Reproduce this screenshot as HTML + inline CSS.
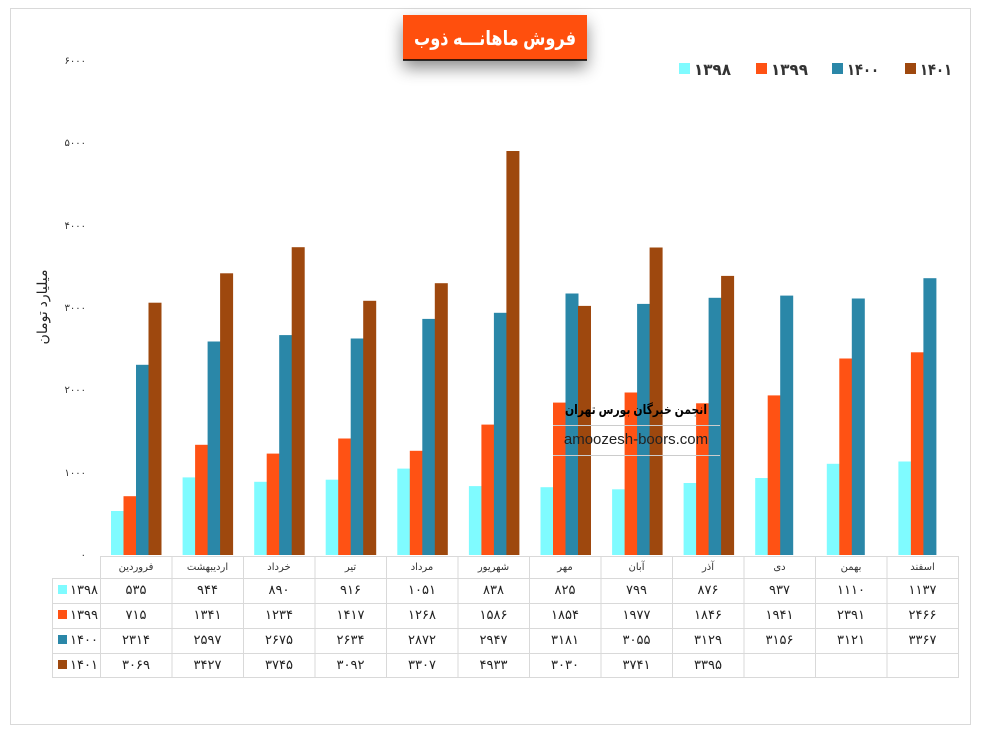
<!DOCTYPE html>
<html><head><meta charset="utf-8"><style>
html,body{margin:0;padding:0;background:#fff;}
body{width:981px;height:733px;overflow:hidden;position:relative;font-family:"Liberation Sans","DejaVu Sans","Noto Sans CJK SC",sans-serif;}
</style></head><body>
<svg width="981" height="733" xmlns="http://www.w3.org/2000/svg" style="position:absolute;left:0;top:0;font-family:'Liberation Sans','DejaVu Sans',sans-serif">
<defs><filter id="sh" x="-30%" y="-50%" width="160%" height="220%"><feDropShadow dx="0" dy="8" stdDeviation="8" flood-color="#000" flood-opacity="0.45"/></filter></defs>
<rect x="10.5" y="8.5" width="960" height="716" fill="#fff" stroke="#d9d9d9"/>
<!-- title -->
<rect x="403" y="15" width="184" height="45" fill="#FF5010" filter="url(#sh)"/>
<line x1="403" y1="60" x2="587" y2="60" stroke="#000" stroke-width="1.5"/>
<text x="495" y="45" text-anchor="middle" font-size="20" font-weight="bold" fill="#fff" direction="rtl" textLength="162" lengthAdjust="spacingAndGlyphs">فروش ماهانـــه ذوب</text>
<!-- legend -->
<g font-size="16" font-weight="bold" fill="#333">
<rect x="679" y="63" width="11" height="11" fill="#7FFBFF"/><text x="694" y="75" textLength="37" lengthAdjust="spacingAndGlyphs">۱۳۹۸</text>
<rect x="756" y="63" width="11" height="11" fill="#FF5214"/><text x="771" y="75" textLength="37" lengthAdjust="spacingAndGlyphs">۱۳۹۹</text>
<rect x="832" y="63" width="11" height="11" fill="#2A87A8"/><text x="847" y="75" textLength="32" lengthAdjust="spacingAndGlyphs">۱۴۰۰</text>
<rect x="905" y="63" width="11" height="11" fill="#9E480E"/><text x="920" y="75" textLength="32" lengthAdjust="spacingAndGlyphs">۱۴۰۱</text>
</g>
<!-- y axis labels -->
<g font-size="10" fill="#333" text-anchor="end">
<text x="86" y="64">۶۰۰۰</text><text x="86" y="146">۵۰۰۰</text><text x="86" y="229">۴۰۰۰</text>
<text x="86" y="311">۳۰۰۰</text><text x="86" y="393">۲۰۰۰</text><text x="86" y="476">۱۰۰۰</text><text x="86" y="558">۰</text>
</g>
<text transform="translate(47,307) rotate(-90)" text-anchor="middle" font-size="14" fill="#222" direction="rtl">میلیارد تومان</text>
<!-- bars -->
<g transform="translate(0,555) scale(1,-1)">
<g transform="translate(100,0)"><rect x="11" width="13" height="44" fill="#7FFBFF"/><rect x="23.5" width="13" height="58.8" fill="#FF5214"/><rect x="36" width="13" height="190.2" fill="#2A87A8"/><rect x="48.5" width="13" height="252.3" fill="#9E480E"/></g>
<g transform="translate(171.6,0)"><rect x="11" width="13" height="77.6" fill="#7FFBFF"/><rect x="23.5" width="13" height="110.2" fill="#FF5214"/><rect x="36" width="13" height="213.5" fill="#2A87A8"/><rect x="48.5" width="13" height="281.7" fill="#9E480E"/></g>
<g transform="translate(243.2,0)"><rect x="11" width="13" height="73.2" fill="#7FFBFF"/><rect x="23.5" width="13" height="101.4" fill="#FF5214"/><rect x="36" width="13" height="219.9" fill="#2A87A8"/><rect x="48.5" width="13" height="307.8" fill="#9E480E"/></g>
<g transform="translate(314.7,0)"><rect x="11" width="13" height="75.3" fill="#7FFBFF"/><rect x="23.5" width="13" height="116.5" fill="#FF5214"/><rect x="36" width="13" height="216.5" fill="#2A87A8"/><rect x="48.5" width="13" height="254.2" fill="#9E480E"/></g>
<g transform="translate(386.3,0)"><rect x="11" width="13" height="86.4" fill="#7FFBFF"/><rect x="23.5" width="13" height="104.2" fill="#FF5214"/><rect x="36" width="13" height="236.1" fill="#2A87A8"/><rect x="48.5" width="13" height="271.8" fill="#9E480E"/></g>
<g transform="translate(457.9,0)"><rect x="11" width="13" height="68.9" fill="#7FFBFF"/><rect x="23.5" width="13" height="130.4" fill="#FF5214"/><rect x="36" width="13" height="242.2" fill="#2A87A8"/><rect x="48.5" width="13" height="404" fill="#9E480E"/></g>
<g transform="translate(529.5,0)"><rect x="11" width="13" height="67.8" fill="#7FFBFF"/><rect x="23.5" width="13" height="152.4" fill="#FF5214"/><rect x="36" width="13" height="261.5" fill="#2A87A8"/><rect x="48.5" width="13" height="249.1" fill="#9E480E"/></g>
<g transform="translate(601.1,0)"><rect x="11" width="13" height="65.7" fill="#7FFBFF"/><rect x="23.5" width="13" height="162.5" fill="#FF5214"/><rect x="36" width="13" height="251.1" fill="#2A87A8"/><rect x="48.5" width="13" height="307.5" fill="#9E480E"/></g>
<g transform="translate(672.6,0)"><rect x="11" width="13" height="72" fill="#7FFBFF"/><rect x="23.5" width="13" height="151.7" fill="#FF5214"/><rect x="36" width="13" height="257.2" fill="#2A87A8"/><rect x="48.5" width="13" height="279.1" fill="#9E480E"/></g>
<g transform="translate(744.2,0)"><rect x="11" width="13" height="77" fill="#7FFBFF"/><rect x="23.5" width="13" height="159.6" fill="#FF5214"/><rect x="36" width="13" height="259.4" fill="#2A87A8"/></g>
<g transform="translate(815.8,0)"><rect x="11" width="13" height="91.2" fill="#7FFBFF"/><rect x="23.5" width="13" height="196.5" fill="#FF5214"/><rect x="36" width="13" height="256.5" fill="#2A87A8"/></g>
<g transform="translate(887.4,0)"><rect x="11" width="13" height="93.5" fill="#7FFBFF"/><rect x="23.5" width="13" height="202.7" fill="#FF5214"/><rect x="36" width="13" height="276.8" fill="#2A87A8"/></g>
</g>
<!-- watermark -->
<text x="636" y="414" text-anchor="middle" font-size="13" font-weight="bold" fill="#000" direction="rtl" textLength="142" lengthAdjust="spacingAndGlyphs">انجمن خبرگان بورس تهران</text>
<line x1="553" y1="425.5" x2="720" y2="425.5" stroke="#ccc"/>
<line x1="553" y1="455.5" x2="720" y2="455.5" stroke="#ccc"/>
<text x="636" y="444" text-anchor="middle" font-size="15" fill="#222">amoozesh-boors.com</text>
<!-- table grid -->
<g stroke="#d9d9d9" stroke-width="1">
<line x1="100" y1="556.5" x2="959" y2="556.5"/>
<line x1="52" y1="578.5" x2="959" y2="578.5"/>
<line x1="52" y1="603.5" x2="959" y2="603.5"/>
<line x1="52" y1="628.5" x2="959" y2="628.5"/>
<line x1="52" y1="653.5" x2="959" y2="653.5"/>
<line x1="52" y1="677.5" x2="959" y2="677.5"/>
<line x1="52.5" y1="578" x2="52.5" y2="678"/>
<line x1="100.5" y1="556" x2="100.5" y2="678"/>
<line x1="172" y1="556" x2="172" y2="678"/>
<line x1="243.5" y1="556" x2="243.5" y2="678"/>
<line x1="315" y1="556" x2="315" y2="678"/>
<line x1="386.5" y1="556" x2="386.5" y2="678"/>
<line x1="458" y1="556" x2="458" y2="678"/>
<line x1="529.5" y1="556" x2="529.5" y2="678"/>
<line x1="601" y1="556" x2="601" y2="678"/>
<line x1="672.5" y1="556" x2="672.5" y2="678"/>
<line x1="744" y1="556" x2="744" y2="678"/>
<line x1="815.5" y1="556" x2="815.5" y2="678"/>
<line x1="887" y1="556" x2="887" y2="678"/>
<line x1="958.5" y1="556" x2="958.5" y2="678"/>
</g>
<!-- row legend -->
<rect x="58" y="585" width="9" height="9" fill="#7FFBFF"/><rect x="58" y="610" width="9" height="9" fill="#FF5214"/>
<rect x="58" y="635" width="9" height="9" fill="#2A87A8"/><rect x="58" y="660" width="9" height="9" fill="#9E480E"/>
<g font-size="13" fill="#222">
<text x="70" y="594">۱۳۹۸</text><text x="70" y="619">۱۳۹۹</text><text x="70" y="644">۱۴۰۰</text><text x="70" y="669">۱۴۰۱</text>
</g>
<g font-size="10" fill="#333" text-anchor="middle" direction="rtl">
<text x="136" y="570">فروردین</text><text x="207.5" y="570">اردیبهشت</text><text x="279" y="570">خرداد</text><text x="350.5" y="570">تیر</text>
<text x="422" y="570">مرداد</text><text x="493.5" y="570">شهریور</text><text x="565" y="570">مهر</text><text x="636.5" y="570">آبان</text>
<text x="708" y="570">آذر</text><text x="779.5" y="570">دی</text><text x="851" y="570">بهمن</text><text x="922.5" y="570">اسفند</text>
</g>
<g font-size="13" fill="#222" text-anchor="middle">
<text x="136" y="594">۵۳۵</text><text x="207.5" y="594">۹۴۴</text><text x="279" y="594">۸۹۰</text><text x="350.5" y="594">۹۱۶</text><text x="422" y="594">۱۰۵۱</text><text x="493.5" y="594">۸۳۸</text><text x="565" y="594">۸۲۵</text><text x="636.5" y="594">۷۹۹</text><text x="708" y="594">۸۷۶</text><text x="779.5" y="594">۹۳۷</text><text x="851" y="594">۱۱۱۰</text><text x="922.5" y="594">۱۱۳۷</text>
<text x="136" y="619">۷۱۵</text><text x="207.5" y="619">۱۳۴۱</text><text x="279" y="619">۱۲۳۴</text><text x="350.5" y="619">۱۴۱۷</text><text x="422" y="619">۱۲۶۸</text><text x="493.5" y="619">۱۵۸۶</text><text x="565" y="619">۱۸۵۴</text><text x="636.5" y="619">۱۹۷۷</text><text x="708" y="619">۱۸۴۶</text><text x="779.5" y="619">۱۹۴۱</text><text x="851" y="619">۲۳۹۱</text><text x="922.5" y="619">۲۴۶۶</text>
<text x="136" y="644">۲۳۱۴</text><text x="207.5" y="644">۲۵۹۷</text><text x="279" y="644">۲۶۷۵</text><text x="350.5" y="644">۲۶۳۴</text><text x="422" y="644">۲۸۷۲</text><text x="493.5" y="644">۲۹۴۷</text><text x="565" y="644">۳۱۸۱</text><text x="636.5" y="644">۳۰۵۵</text><text x="708" y="644">۳۱۲۹</text><text x="779.5" y="644">۳۱۵۶</text><text x="851" y="644">۳۱۲۱</text><text x="922.5" y="644">۳۳۶۷</text>
<text x="136" y="669">۳۰۶۹</text><text x="207.5" y="669">۳۴۲۷</text><text x="279" y="669">۳۷۴۵</text><text x="350.5" y="669">۳۰۹۲</text><text x="422" y="669">۳۳۰۷</text><text x="493.5" y="669">۴۹۳۳</text><text x="565" y="669">۳۰۳۰</text><text x="636.5" y="669">۳۷۴۱</text><text x="708" y="669">۳۳۹۵</text>
</g>
</svg>
</body></html>
